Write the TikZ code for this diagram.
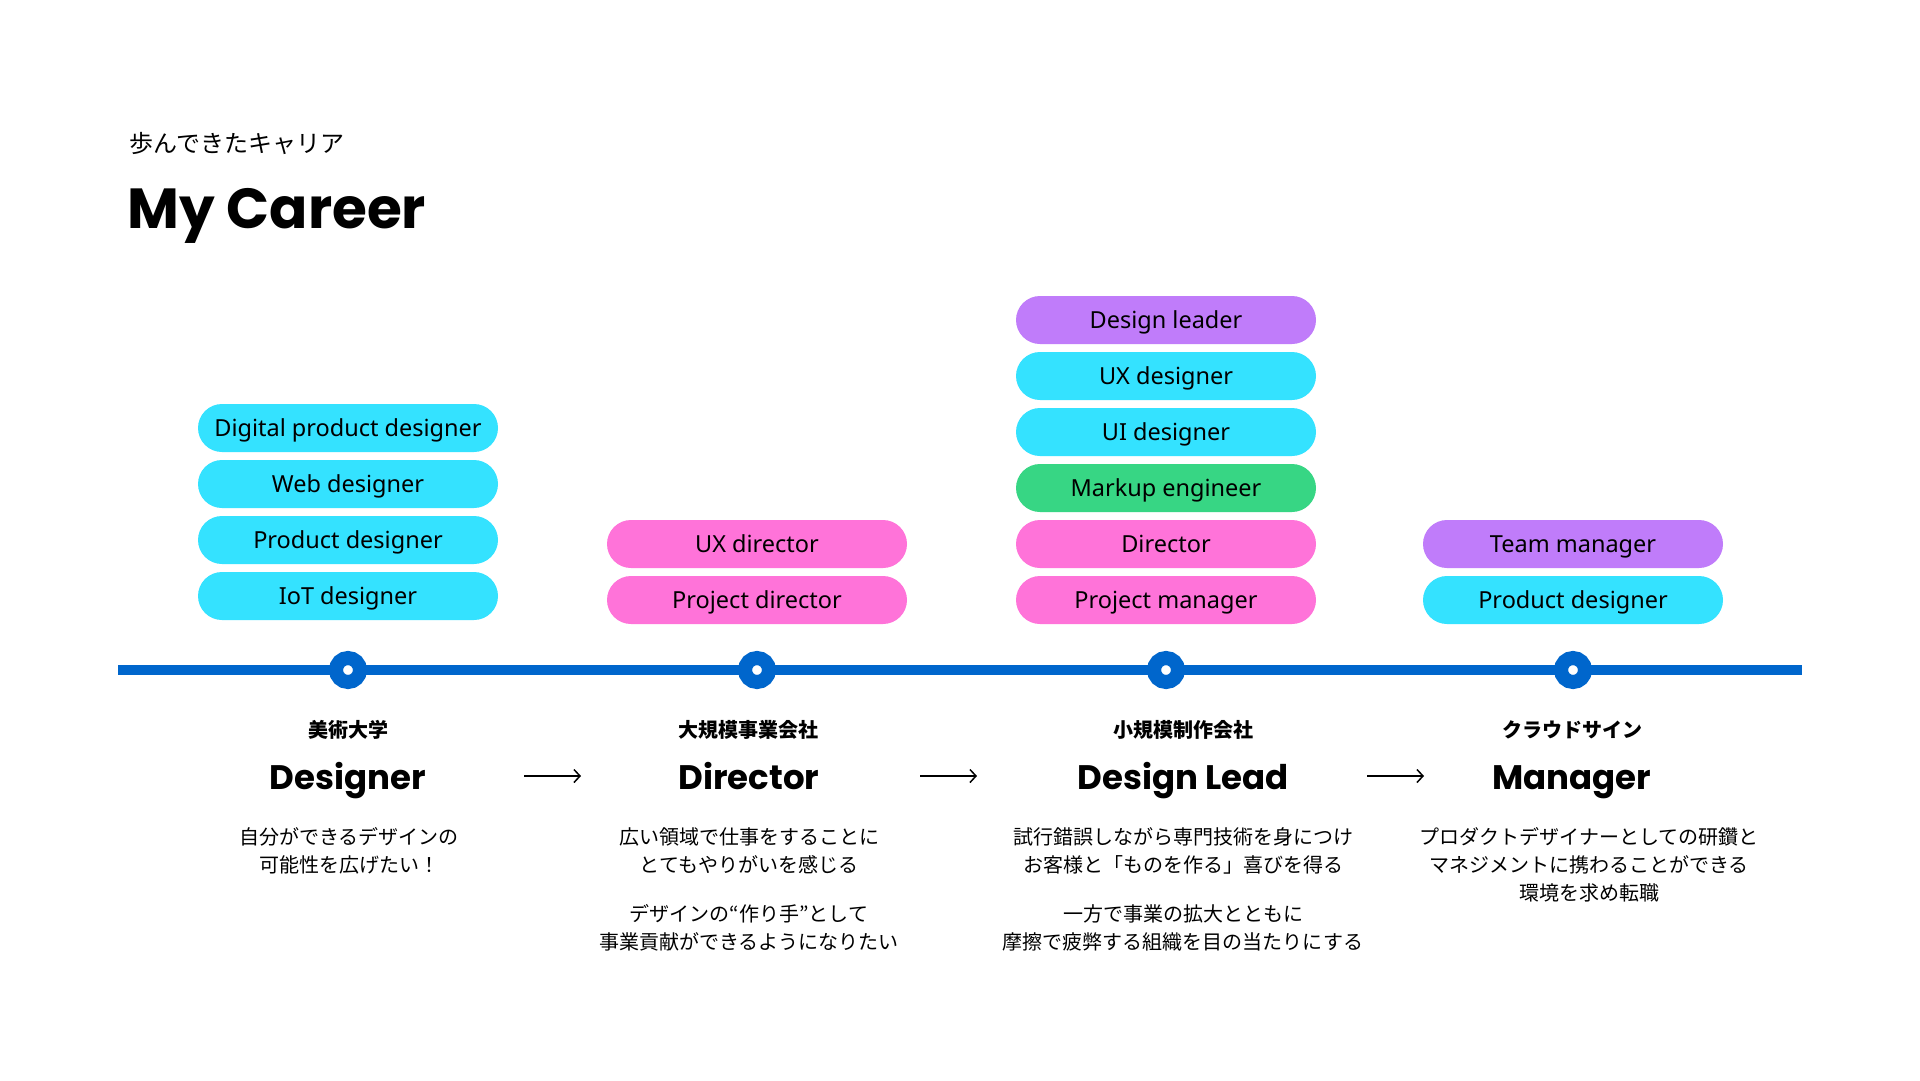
\documentclass[tikz,border=0pt]{standalone}
\usepackage{fontspec}
\setmainfont{Noto Sans}
\newfontfamily\jpfont{Noto Sans CJK JP}
\newfontfamily\headfont{Poppins}
\usepackage{xcolor}
\usetikzlibrary{arrows.meta}

\definecolor{pillcyan}{HTML}{34E2FF}
\definecolor{pillpink}{HTML}{FF73D9}
\definecolor{pillpurple}{HTML}{C07CFA}
\definecolor{pillgreen}{HTML}{37D684}
\definecolor{lineblue}{HTML}{0066CC}

\tikzset{
  pill/.style={rounded corners=24pt, minimum width=300pt, minimum height=48pt,
    inner sep=0pt, text height=16.5pt, text depth=0pt,
    font=\fontsize{23.5}{28}\selectfont},
  dot/.style={circle, draw=lineblue, fill=white, line width=14pt,
    minimum size=24pt, inner sep=0pt},
  firm/.style={font=\jpfont\bfseries\fontsize{20}{24}\selectfont},
  role/.style={anchor=base, font=\headfont\bfseries\fontsize{34}{40}\selectfont},
  note/.style={font=\jpfont\fontsize{20}{28}\selectfont, align=center,
    anchor=north, inner sep=0pt},
}

\begin{document}
\begin{tikzpicture}[x=1pt,y=-1pt,>={Straight Barb[length=6pt,width=13pt]}]
    \useasboundingbox[fill=white] (0,0) rectangle (1920,1080);

    % heading
    \node[anchor=west,inner sep=0pt,font=\jpfont\fontsize{24}{28}\selectfont] (sub) at (129,143) {歩んできたキャリア};
    \node[anchor=base west,inner sep=0pt,font=\headfont\bfseries\fontsize{56.5}{64}\selectfont] (head) at (127,228) {My Career};

    % timeline
    \coordinate (ls) at (118,670);
    \coordinate (le) at (1802,670);
    \draw[lineblue,line width=10pt] (ls)--(le);
    \node[dot] (t1) at (348,670) {};
    \node[dot] (t2) at (757,670) {};
    \node[dot] (t3) at (1166,670) {};
    \node[dot] (t4) at (1573,670) {};

    % roles held
    \node[pill,fill=pillcyan] (p11) at (348,596) {IoT designer};
    \node[pill,fill=pillcyan] (p12) at (348,540) {Product designer};
    \node[pill,fill=pillcyan] (p13) at (348,484) {Web designer};
    \node[pill,fill=pillcyan] (p14) at (348,428) {Digital product designer};
    \node[pill,fill=pillpink] (p21) at (757,600) {Project director};
    \node[pill,fill=pillpink] (p22) at (757,544) {UX director};
    \node[pill,fill=pillpink] (p31) at (1166,600) {Project manager};
    \node[pill,fill=pillpink] (p32) at (1166,544) {Director};
    \node[pill,fill=pillgreen] (p33) at (1166,488) {Markup engineer};
    \node[pill,fill=pillcyan] (p34) at (1166,432) {UI designer};
    \node[pill,fill=pillcyan] (p35) at (1166,376) {UX designer};
    \node[pill,fill=pillpurple] (p36) at (1166,320) {Design leader};
    \node[pill,fill=pillcyan] (p41) at (1573,600) {Product designer};
    \node[pill,fill=pillpurple] (p42) at (1573,544) {Team manager};

    % places
    \node[firm] (f1) at (348,730) {美術大学};
    \node[firm] (f2) at (748,730) {大規模事業会社};
    \node[firm] (f3) at (1183,730) {小規模制作会社};
    \node[firm] (f4) at (1572,730) {クラウドサイン};

    \node[role] (r1) at (348,789) {Designer};
    \node[role] (r2) at (749,789) {Director};
    \node[role] (r3) at (1183,789) {Design Lead};
    \node[role] (r4) at (1572,789) {Manager};

    \coordinate (a1s) at (524,776);
    \coordinate (a1e) at (581,776);
    \coordinate (a2s) at (920,776);
    \coordinate (a2e) at (977,776);
    \coordinate (a3s) at (1367,776);
    \coordinate (a3e) at (1424,776);
    \draw[->,line width=1.5pt] (a1s)--(a1e);
    \draw[->,line width=1.5pt] (a2s)--(a2e);
    \draw[->,line width=1.5pt] (a3s)--(a3e);

    % notes
    \node[note] (n1) at (349,827) {自分ができるデザインの\\可能性を広げたい！};
    \node[note] (n2) at (749,827) {広い領域で仕事をすることに\\とてもやりがいを感じる\\[21pt]デザインの“作り手”として\\事業貢献ができるようになりたい};
    \node[note] (n3) at (1183,827) {試行錯誤しながら専門技術を身につけ\\お客様と「ものを作る」喜びを得る\\[21pt]一方で事業の拡大とともに\\摩擦で疲弊する組織を目の当たりにする};
    \node[note] (n4) at (1589,827) {プロダクトデザイナーとしての研鑽と\\マネジメントに携わることができる\\環境を求め転職};
\end{tikzpicture}
\end{document}
